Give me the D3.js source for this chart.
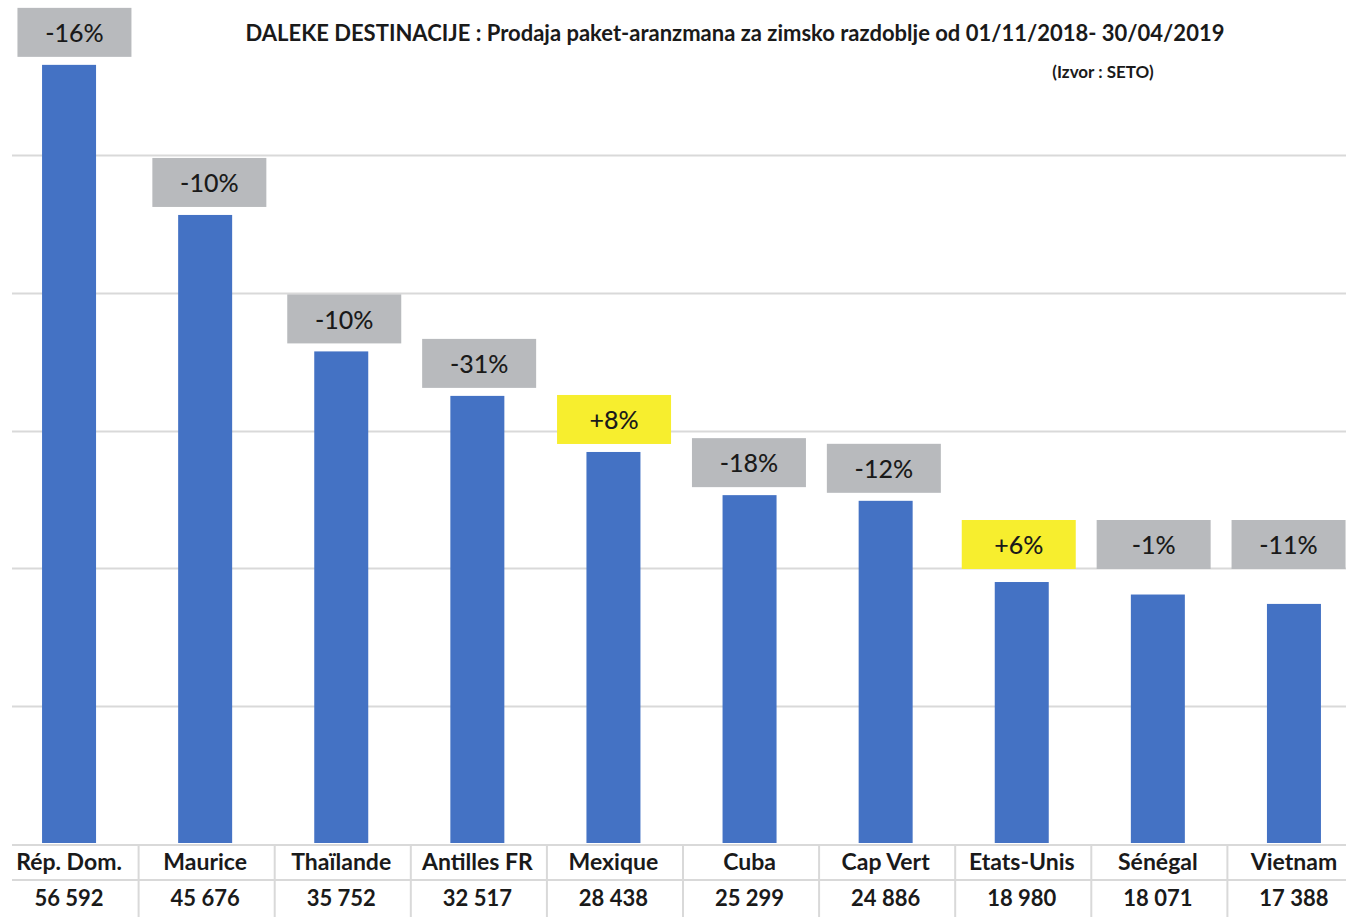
<!DOCTYPE html>
<html>
<head>
<meta charset="utf-8">
<script src="https://cdn.jsdelivr.net/npm/d3@7"></script>
<style>
  body { margin: 0; background: #fff; }
  svg text { font-family: Lato, 'Open Sans', sans-serif; fill: #1a1a1a; }
</style>
</head>
<body>
<div id="chart"></div>
<script>
const categories = ['Rép. Dom.', 'Maurice', 'Thaïlande', 'Antilles FR', 'Mexique', 'Cuba', 'Cap Vert', 'Etats-Unis', 'Sénégal', 'Vietnam']
const values = [56592, 45676, 35752, 32517, 28438, 25299, 24886, 18980, 18071, 17388]
const changes = ['-16%', '-10%', '-10%', '-31%', '+8%', '-18%', '-12%', '+6%', '-1%', '-11%']
const valueLabels = ['56 592', '45 676', '35 752', '32 517', '28 438', '25 299', '24 886', '18 980', '18 071', '17 388']
const gridTicks = [10000, 20000, 30000, 40000, 50000]

const W = 1346
const H = 917
const base = 845
const labelFloor = 20000

const data = categories.map((c, i) => ({
  name: c,
  value: values[i],
  change: changes[i],
  label: valueLabels[i],
}))

const svg = d3.select('#chart').append('svg').attr('width', W).attr('height', H)

const x = d3.scaleBand().domain(categories).range([1, 1362])
// the change boxes sit on a slightly tighter grid than the bars
const xBox = d3.scaleBand().domain(categories).range([7, 1356])
const y = d3.scaleLinear().domain([0, 60000]).range([base - 2, 18])

// gridlines
svg
  .append('g')
  .selectAll('line')
  .data(gridTicks)
  .join('line')
  .attr('x1', 12)
  .attr('x2', W)
  .attr('y1', (d) => Math.round(y(d)) + 0.5)
  .attr('y2', (d) => Math.round(y(d)) + 0.5)
  .attr('stroke', '#d9d9d9')
  .attr('stroke-width', 2)

// bars
const barW = 54
svg
  .append('g')
  .selectAll('rect')
  .data(data)
  .join('rect')
  .attr('x', (d) => x(d.name) + x.bandwidth() / 2 - barW / 2)
  .attr('y', (d) => y(d.value))
  .attr('width', barW)
  .attr('height', (d) => y(0) - y(d.value))
  .attr('fill', '#4472c4')

// change boxes
const boxW = 114
const boxH = 49
const boxes = svg
  .append('g')
  .selectAll('g')
  .data(data)
  .join('g')
  .attr('transform', (d) => {
    const bottom = Math.min(y(d.value) - 8, y(labelFloor) + 1)
    return `translate(${xBox(d.name) + xBox.bandwidth() / 2 - boxW / 2}, ${bottom - boxH})`
  })

boxes
  .append('rect')
  .attr('width', boxW)
  .attr('height', boxH)
  .attr('fill', (d) => (d.change.startsWith('+') ? '#f7ee2e' : '#b8babd'))

boxes
  .append('text')
  .attr('x', boxW / 2)
  .attr('y', boxH / 2 + 1)
  .attr('dy', '0.35em')
  .attr('text-anchor', 'middle')
  .style('font-size', '25px')
  .style('font-weight', 500)
  .text((d) => d.change)

// table
const table = svg.append('g')
table
  .selectAll('.hline')
  .data([base, 880])
  .join('line')
  .attr('class', 'hline')
  .attr('x1', 12)
  .attr('x2', W)
  .attr('y1', (d) => d)
  .attr('y2', (d) => d)
  .attr('stroke', '#d9d9d9')
  .attr('stroke-width', 2)

table
  .selectAll('.sep')
  .data(categories.slice(1))
  .join('line')
  .attr('class', 'sep')
  .attr('x1', (d) => x(d) + 1.5)
  .attr('x2', (d) => x(d) + 1.5)
  .attr('y1', base)
  .attr('y2', H)
  .attr('stroke', '#d9d9d9')
  .attr('stroke-width', 2)

table
  .selectAll('.cat')
  .data(data)
  .join('text')
  .attr('class', 'cat')
  .attr('x', (d) => x(d.name) + x.bandwidth() / 2)
  .attr('y', 862)
  .attr('dy', '0.35em')
  .attr('text-anchor', 'middle')
  .style('font-size', '23px')
  .style('font-weight', 700)
  .text((d) => d.name)

table
  .selectAll('.val')
  .data(data)
  .join('text')
  .attr('class', 'val')
  .attr('x', (d) => x(d.name) + x.bandwidth() / 2)
  .attr('y', 898)
  .attr('dy', '0.35em')
  .attr('text-anchor', 'middle')
  .style('font-size', '22px')
  .style('font-weight', 700)
  .text((d) => d.label)

// title
svg
  .append('text')
  .attr('x', 735)
  .attr('y', 33)
  .attr('dy', '0.35em')
  .attr('text-anchor', 'middle')
  .style('font-size', '22px')
  .style('font-weight', 700)
  .text('DALEKE DESTINACIJE : Prodaja paket-aranzmana za zimsko razdoblje od 01/11/2018- 30/04/2019')

svg
  .append('text')
  .attr('x', 1103)
  .attr('y', 72)
  .attr('dy', '0.35em')
  .attr('text-anchor', 'middle')
  .style('font-size', '17px')
  .style('font-weight', 700)
  .text('(Izvor : SETO)')
</script>
</body>
</html>
